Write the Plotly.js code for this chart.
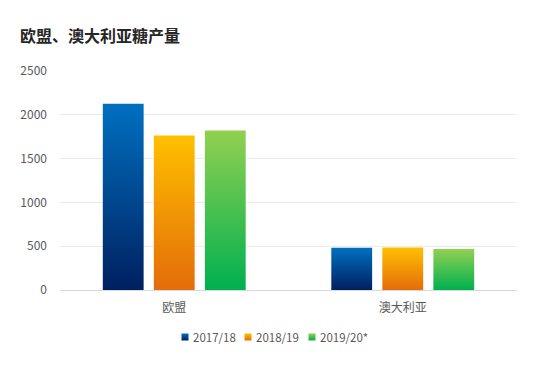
<!DOCTYPE html>
<html>
<head>
<meta charset="utf-8">
<script src="https://cdn.plot.ly/plotly-3.0.1.min.js"></script>
<style>html,body{margin:0;padding:0;background:#fff;}#chart{width:554px;height:371px;}</style>
</head>
<body>
<div id="chart"></div>
<script>
const categories = ['欧盟', '澳大利亚'];
const seriesNames = ['2017/18', '2018/19', '2019/20*'];
const values2017 = [2126, 483];
const values2018 = [1763, 486];
const values2019 = [1821, 468];
const yTicks = [0, 500, 1000, 1500, 2000, 2500];

const gradients = [
  ['#0070C0', '#002060'],
  ['#FFC000', '#E46C0A'],
  ['#92D050', '#00B050']
];
const baseColors = ['#0060A8', '#F5A000', '#4CC050'];
const allValues = [values2017, values2018, values2019];

const traces = allValues.map((v, i) => ({
  type: 'bar',
  name: seriesNames[i],
  x: categories,
  y: v,
  marker: {color: baseColors[i], line: {width: 0}},
  hoverinfo: 'x+y+name'
}));

const font = '"Noto Sans CJK SC", "Noto Sans", sans-serif';
const layout = {
  width: 554, height: 371,
  margin: {l: 60, r: 37, t: 71, b: 81},
  paper_bgcolor: '#fff', plot_bgcolor: '#fff',
  font: {family: font, color: '#595959', size: 12},
  title: {text: '<b>欧盟、澳大利亚糖产量</b>', x: 20/554, xanchor: 'left', y: 1 - 36/371, yanchor: 'middle',
          font: {family: font, size: 16, color: '#262626'}},
  barmode: 'group', bargap: 0.33, bargroupgap: 0.2,
  xaxis: {type: 'category', showgrid: false, showline: false, zeroline: false, ticks: '',
          ticklabelstandoff: 9, tickfont: {size: 12, color: '#595959'}},
  yaxis: {range: [0, 2500], tickvals: yTicks, showgrid: true, gridcolor: '#EBEBEB', gridwidth: 1,
          zeroline: true, zerolinecolor: '#D9D9D9', zerolinewidth: 1, showline: false, ticks: '',
          ticklabelstandoff: 12, tickfont: {size: 12, color: '#595959'}},
  showlegend: true,
  legend: {orientation: 'h', x: 0.5, xanchor: 'center', y: 1 - 337/371, yanchor: 'middle', yref: 'container',
           font: {size: 11.5, color: '#595959'}, itemwidth: 30, traceorder: 'normal'}
};

// target left edges (px) of the legend texts
const legendTextLeft = [193, 256, 320];

Plotly.newPlot('chart', traces, layout, {displayModeBar: false, staticPlot: true}).then(gd => {
  const svg = gd.querySelector('svg.main-svg');
  let defs = svg.querySelector('defs');
  const ns = 'http://www.w3.org/2000/svg';
  gradients.forEach((g, i) => {
    const lg = document.createElementNS(ns, 'linearGradient');
    lg.setAttribute('id', 'bargrad' + i);
    lg.setAttribute('x1', '0'); lg.setAttribute('y1', '0');
    lg.setAttribute('x2', '0'); lg.setAttribute('y2', '1');
    [[0, g[0]], [1, g[1]]].forEach(([o, c]) => {
      const s = document.createElementNS(ns, 'stop');
      s.setAttribute('offset', o);
      s.setAttribute('stop-color', c);
      lg.appendChild(s);
    });
    defs.appendChild(lg);
  });
  gd.querySelectorAll('.barlayer .trace').forEach((t, i) => {
    t.querySelectorAll('path').forEach(p => { p.style.fill = 'url(#bargrad' + i + ')'; });
  });
  const rootRect = gd.getBoundingClientRect();
  gd.querySelectorAll('.legend .traces').forEach((t, i) => {
    t.querySelectorAll('.legendpoints path').forEach(p => {
      p.style.fill = 'url(#bargrad' + i + ')';
      p.setAttribute('d', 'M3.5,3.5H-3.5V-3.5H3.5Z');
      p.setAttribute('transform', 'translate(32,0)');
    });
    const txt = t.querySelector('text.legendtext');
    if (txt) {
      const r = txt.getBoundingClientRect();
      const dx = legendTextLeft[i] - (r.left - rootRect.left);
      const tr = t.getAttribute('transform') || '';
      const m = tr.match(/translate\(\s*([-\d.e]+)[ ,]+([-\d.e]+)\s*\)/);
      if (m) {
        t.setAttribute('transform', 'translate(' + (parseFloat(m[1]) + dx) + ',' + m[2] + ')');
      }
    }
  });
});
</script>
</body>
</html>
